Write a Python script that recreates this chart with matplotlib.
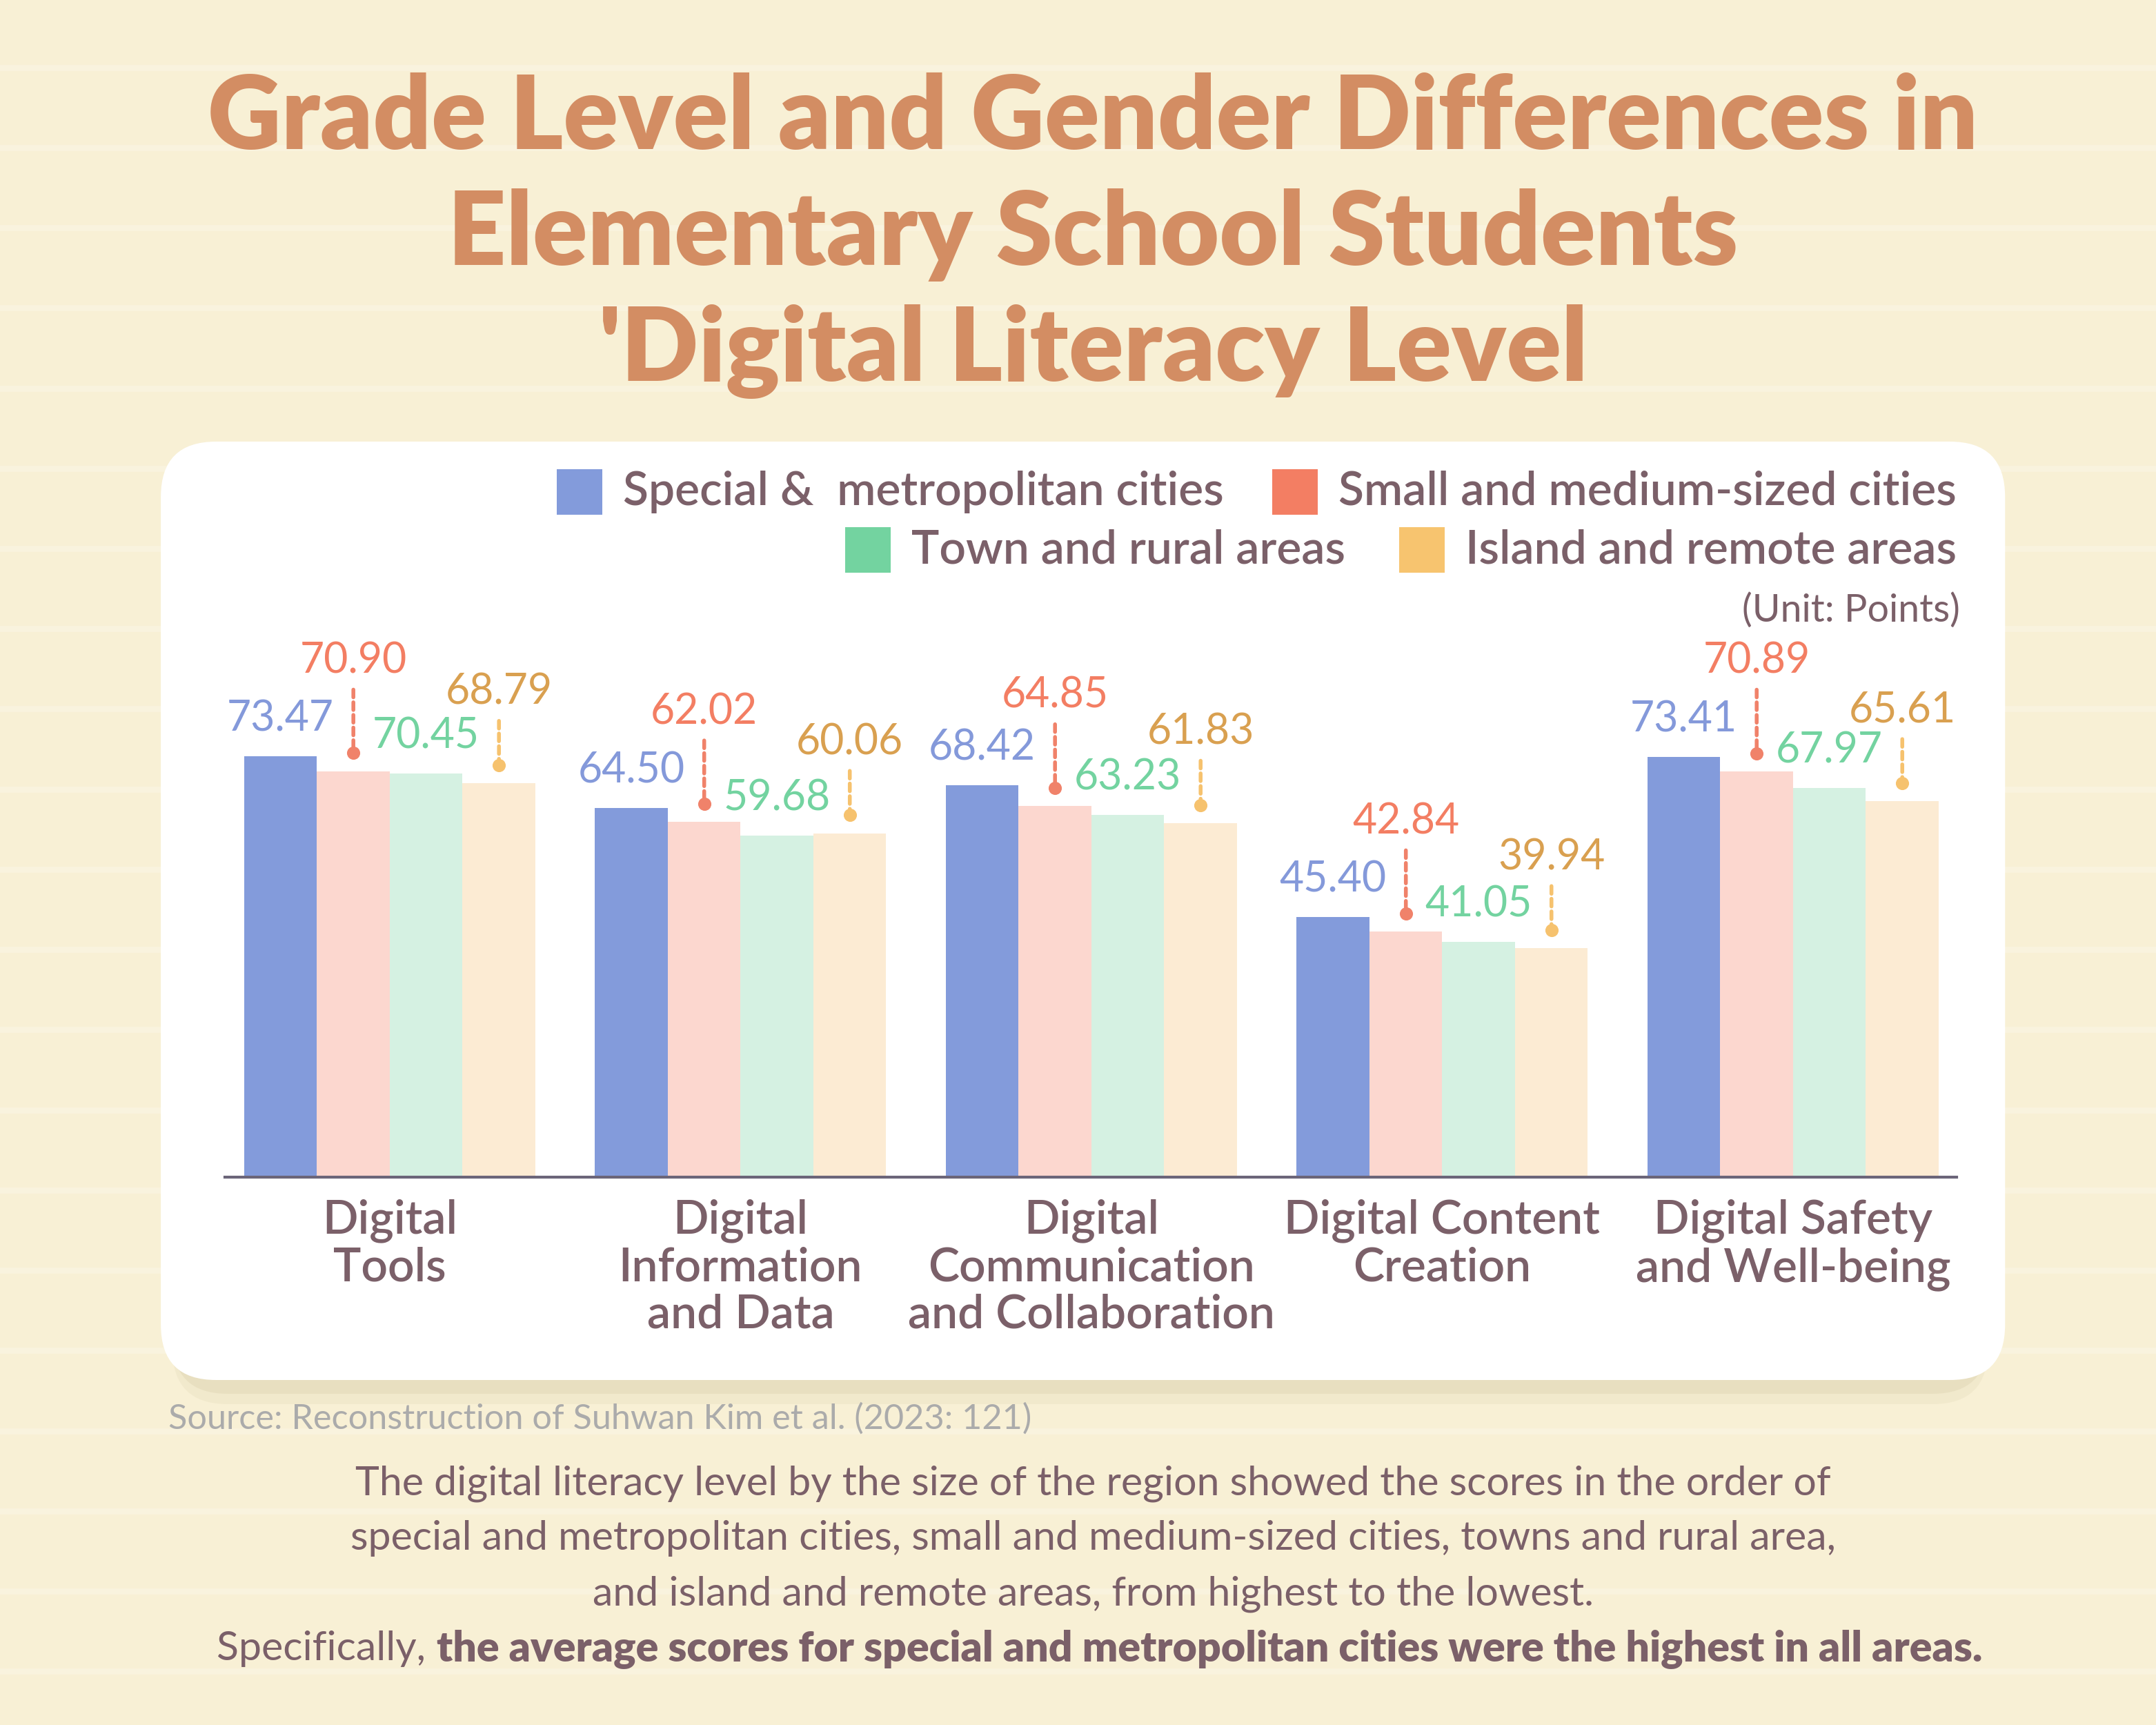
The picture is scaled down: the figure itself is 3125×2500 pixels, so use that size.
"""
Digital literacy level by region size (elementary school students).
"""

import numpy as np
import matplotlib
matplotlib.use("Agg")
import matplotlib.pyplot as plt
from matplotlib.patches import FancyBboxPatch, Rectangle
from matplotlib.lines import Line2D
from matplotlib.transforms import offset_copy

plt.rcParams["font.family"] = ["Lato", "DejaVu Sans"]

categories = [
    "Digital\nTools",
    "Digital\nInformation\nand Data",
    "Digital\nCommunication\nand Collaboration",
    "Digital Content\nCreation",
    "Digital Safety\nand Well-being",
]
series_names = [
    "Special &  metropolitan cities",
    "Small and medium-sized cities",
    "Town and rural areas",
    "Island and remote areas",
]
metro = [73.47, 64.50, 68.42, 45.40, 73.41]
small_medium = [70.90, 62.02, 64.85, 42.84, 70.89]
town_rural = [70.45, 59.68, 63.23, 41.05, 67.97]
island_remote = [68.79, 60.06, 61.83, 39.94, 65.61]

title_lines = [
    "Grade Level and Gender Differences in",
    "Elementary School Students",
    "'Digital Literacy Level",
]
unit_text = "(Unit: Points)"
source_text = "Source: Reconstruction of Suhwan Kim et al. (2023: 121)"
body_lines = [
    "The digital literacy level by the size of the region showed the scores in the order of",
    "special and metropolitan cities, small and medium-sized cities, towns and rural area,",
    "and island and remote areas, from highest to the lowest.",
]
last_regular = "Specifically, "
last_bold = "the average scores for special and metropolitan cities were the highest in all areas."

bar_colors = ["#839BDB", "#FCD7CF", "#D5F1E2", "#FCEBD3"]
key_colors = ["#839BDB", "#F37E63", "#73D3A0", "#F7C46F"]
label_colors = ["#8499DA", "#F37E63", "#73D3A0", "#D9A050"]
line_colors = [None, "#F0826A", None, "#F6C26E"]
text_color = "#7B6069"
bg = "#F8F0D5"

W, H = 3125, 2500
fig = plt.figure(figsize=(12.5, 10), dpi=250)
fig.patch.set_facecolor(bg)

# faint paper lines
for yy in np.arange(0.961, 0.0, -0.0465):
    fig.add_artist(Line2D([0, 1], [yy, yy], color="white", alpha=0.22, lw=2.5, zorder=0))

# card with shadow
for dy, a in [(0.014, 0.18), (0.008, 0.3)]:
    fig.add_artist(FancyBboxPatch((0.08, 0.2 - dy), 0.842, 0.544,
                                  boxstyle="round,pad=0,rounding_size=0.0256",
                                  mutation_aspect=W / H, facecolor="#D6CBA6",
                                  edgecolor="none", alpha=a, zorder=1))
fig.add_artist(FancyBboxPatch((0.0746, 0.2), 0.8554, 0.544,
                              boxstyle="round,pad=0,rounding_size=0.0256",
                              mutation_aspect=W / H, facecolor="white",
                              edgecolor="none", zorder=2))

# title
for line, yy in zip(title_lines, [0.9136, 0.8464, 0.7792]):
    fig.text(0.507, yy, line, ha="center", va="baseline", fontsize=42.5,
             fontweight="heavy", color="#D38D63")

ax = fig.add_axes([0.1043, 0.3176, 0.8032, 0.332], zorder=3)
ax.set_facecolor("none")
x = np.arange(len(categories))
w = 0.2075
all_series = [metro, small_medium, town_rural, island_remote]
text_off = [15.5, 46, 15.5, 38]
for i, vals in enumerate(all_series):
    xs = x + (i - 1.5) * w
    ax.bar(xs, vals, width=w, color=bar_colors[i], zorder=2)
    for xc, v in zip(xs, vals):
        ax.annotate(f"{v:.2f}", (xc, v), xytext=(0, text_off[i]),
                    textcoords="offset points", ha="center", va="center",
                    fontsize=17.5, color=label_colors[i], annotation_clip=False)
        if line_colors[i]:
            ax.annotate("", xy=(xc, v), xytext=(0, text_off[i] - 12),
                        textcoords="offset points", annotation_clip=False,
                        arrowprops=dict(arrowstyle="-", color=line_colors[i],
                                        lw=1.6, linestyle=(0, (2, 1.3)),
                                        shrinkA=0, shrinkB=7.5))
            tr = offset_copy(ax.transData, fig=fig, y=7.5, units="points")
            ax.plot(xc, v, marker="o", markersize=4.5, color=line_colors[i],
                    transform=tr, clip_on=False, zorder=4)

ax.set_xlim(-0.47, 4.466)
ax.set_ylim(0, 100)
for s in ["top", "left", "right"]:
    ax.spines[s].set_visible(False)
ax.spines["bottom"].set_color("#6B6579")
ax.spines["bottom"].set_linewidth(1.2)
ax.set_yticks([])
ax.set_xticks(x, categories, fontsize=19.5, color=text_color, linespacing=1.12,
              fontweight="semibold")
ax.tick_params(axis="x", length=0, pad=9)

renderer = fig.canvas.get_renderer()

# legend, right aligned rows
sq_w, sq_h = 66 / W, 66 / H
gap = 30 / W
rows = [
    (0.715, [(0, 887 * 2 / W), (1, 0.9075)]),
    (0.681, [(2, 975 * 2 / W), (3, 0.9075)]),
]
for yy, items in rows:
    for idx, xr in items:
        t = fig.text(xr, yy, series_names[idx], ha="right", va="center",
                     fontsize=19.5, color=text_color, fontweight="semibold", zorder=5)
        bb = t.get_window_extent(renderer).transformed(fig.transFigure.inverted())
        fig.add_artist(Rectangle((bb.x0 - gap - sq_w, yy - sq_h / 2), sq_w, sq_h,
                                 facecolor=key_colors[idx], edgecolor="none", zorder=5))

fig.text(0.909, 0.646, unit_text, ha="right", va="center", fontsize=16,
         color=text_color, zorder=5)

fig.text(0.078, 0.1776, source_text, ha="left", va="center", fontsize=14.5,
         color="#ABABAB", fontweight="normal", zorder=5)

for line, yy in zip(body_lines, [0.14, 0.108, 0.076]):
    fig.text(0.507, yy, line, ha="center", va="center", fontsize=17, color=text_color)

t1 = fig.text(0, 0.044, last_regular, ha="left", va="center", fontsize=17, color=text_color)
t2 = fig.text(0, 0.044, last_bold, ha="left", va="center", fontsize=17.5,
              color=text_color, fontweight="heavy")
w1 = t1.get_window_extent(renderer).width / W
w2 = t2.get_window_extent(renderer).width / W
x0 = 0.51 - (w1 + w2) / 2
t1.set_x(x0)
t2.set_x(x0 + w1)

fig.savefig("out.png", dpi=250, facecolor=bg)
